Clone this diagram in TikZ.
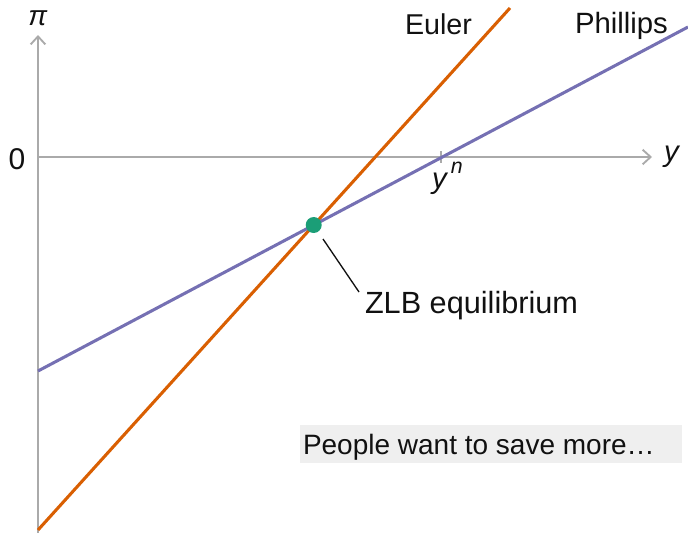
\documentclass[tikz,border=0pt]{standalone}
\usepackage{fontspec}
\setmainfont{Liberation Sans}
\usetikzlibrary{arrows.meta}
\definecolor{eulerc}{HTML}{D95F02}
\definecolor{phillc}{HTML}{7570B3}
\definecolor{dotc}{HTML}{1B9E77}
\definecolor{axisc}{HTML}{AAAAAA}
\definecolor{boxc}{HTML}{EFEFEF}
\definecolor{txtc}{HTML}{111111}
\begin{document}
\begin{tikzpicture}[x=0.75pt,y=-0.75pt,
  font=\fontsize{21}{25}\selectfont,
  axis/.style={draw=axisc,line width=1.5pt,-{Straight Barb[length=6pt,width=11pt,line width=1.4pt]}},
  curve/.style={line width=2.3pt},
  lbl/.style={inner sep=0pt,outer sep=0pt,text=txtc,anchor=base west},
  leader/.style={draw=txtc,line width=1pt}]
\useasboundingbox (0,0) rectangle (688,533);
% axes
\coordinate (ybot) at (38,533);
\coordinate (ytop) at (38,35);
\coordinate (o) at (38,157);
\coordinate (xend) at (652,157);
\draw[axis] (ybot) -- (ytop);
\draw[axis] (o) -- (xend);
% tick at y^n
\coordinate (tickA) at (441,151);
\coordinate (tickB) at (441,163);
\draw[draw=axisc,line width=1.2pt] (tickA) -- (tickB);
% curves
\coordinate (eA) at (38,530);
\coordinate (eB) at (510,8);
\coordinate (pA) at (38,371);
\coordinate (pB) at (688,27);
\draw[curve,eulerc] (eA) -- (eB);
\draw[curve,phillc] (pA) -- (pB);
% equilibrium point
\node[circle,fill=dotc,minimum size=12pt,inner sep=0pt] (eq) at (313.7,225) {};
\coordinate (leadA) at (323,239);
\coordinate (leadB) at (359,292);
\draw[leader] (leadA) -- (leadB);
% labels
\node[lbl,font=\fontsize{23}{27}\selectfont] (zlb) at (365,313) {ZLB equilibrium};
\node[lbl,font=\fontsize{21.5}{25}\selectfont] (euler) at (405,34) {Euler};
\node[lbl,font=\fontsize{22}{26}\selectfont] (phil) at (575,33) {Phillips};
\node[lbl,anchor=base,font=\fontsize{22.5}{26}\selectfont] (zero) at (17,169) {0};
\node[lbl,anchor=base] (pi) at (38,25) {\textit{π}};
\node[lbl,font=\fontsize{22}{26}\selectfont] (ylab) at (664,161) {\textit{y}};
\node[lbl,font=\fontsize{22}{26}\selectfont] (yn) at (432,188) {\textit{y}\hspace{2pt}\raisebox{11pt}{\fontsize{16}{16}\selectfont\textit{n}}};
% box
\node[fill=boxc,minimum width=286.5pt,minimum height=28.5pt,inner sep=0pt,anchor=north west] (box) at (300,425) {};
\node[lbl] (boxtxt) at (303,454) {People want to save more…};
\end{tikzpicture}
\end{document}
